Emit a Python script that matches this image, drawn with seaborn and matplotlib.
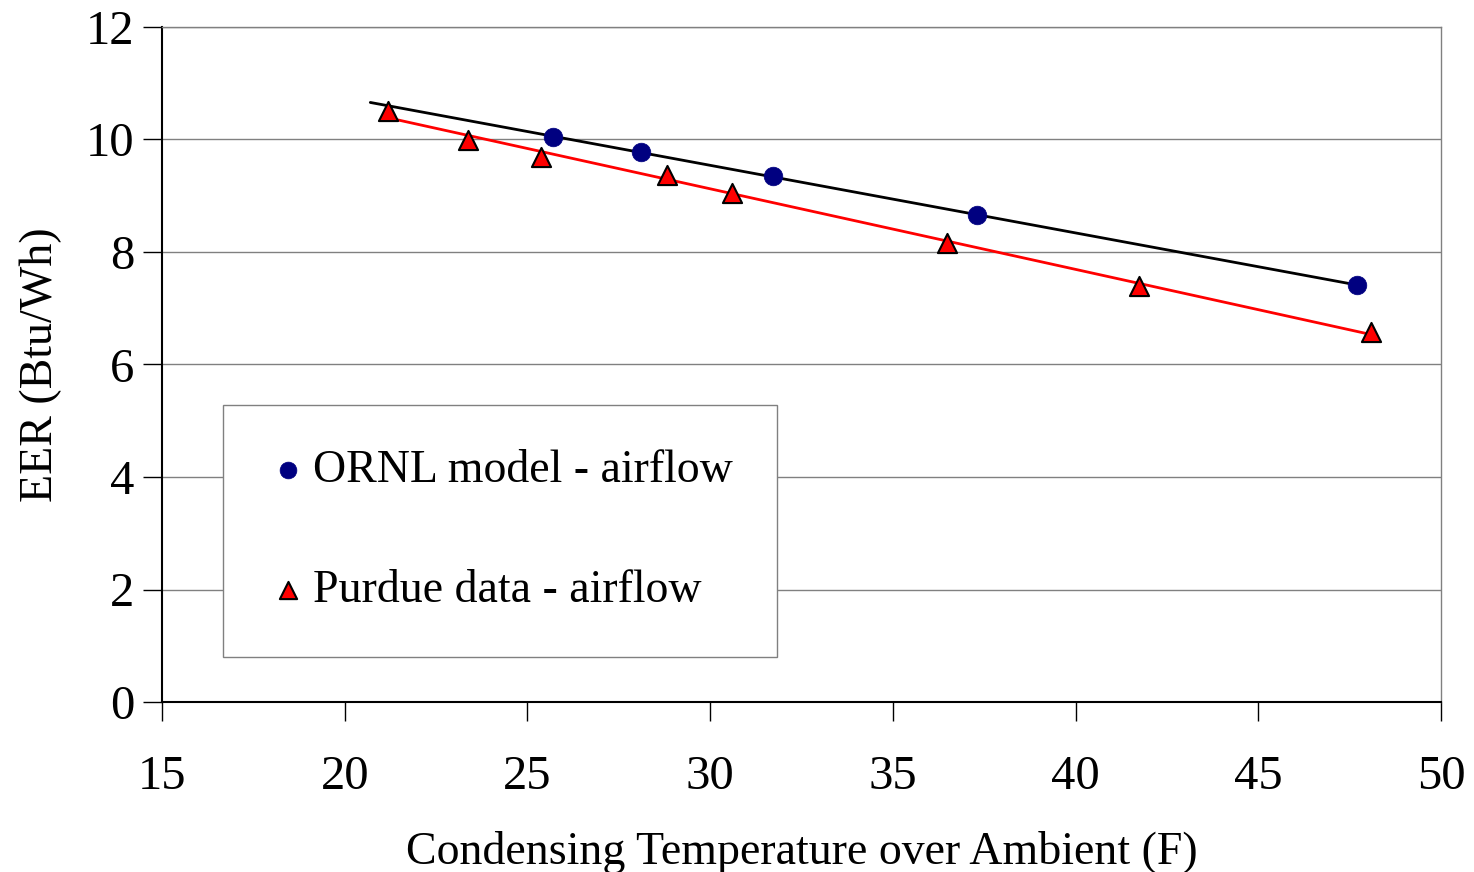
import numpy as np
import pandas as pd
import matplotlib
matplotlib.use("Agg")
import matplotlib.pyplot as plt
import seaborn as sns

ornl_x = [25.69, 28.10, 31.71, 37.31, 47.70]
ornl_y = [10.04, 9.78, 9.35, 8.66, 7.41]
purdue_x = [21.18, 23.37, 25.36, 28.81, 30.59, 36.49, 41.74, 48.09]
purdue_y = [10.51, 9.99, 9.69, 9.37, 9.05, 8.16, 7.40, 6.58]
ornl_fit_range = [20.7, 47.7]
purdue_fit_range = [21.18, 48.09]
x_ticks = [15, 20, 25, 30, 35, 40, 45, 50]
y_ticks = [0, 2, 4, 6, 8, 10, 12]

sns.set_style("white")
plt.rcParams['font.family'] = ['Liberation Serif', 'DejaVu Serif']
plt.rcParams['text.color'] = 'black'
plt.rcParams['axes.labelcolor'] = 'black'
plt.rcParams['xtick.color'] = 'black'
plt.rcParams['ytick.color'] = 'black'

fig = plt.figure(figsize=(14.74, 8.72), dpi=100)
ax = fig.add_axes([162/1474, 1-702/872, (1441-162)/1474, (702-27)/872])

# trendlines
for xs, ys, rng, col in [(ornl_x, ornl_y, ornl_fit_range, 'black'),
                         (purdue_x, purdue_y, purdue_fit_range, '#ff0000')]:
    p = np.polyfit(xs, ys, 1)
    lx = np.array(rng)
    ax.plot(lx, np.polyval(p, lx), color=col, lw=2, zorder=2)

df_o = pd.DataFrame({'x': ornl_x, 'y': ornl_y})
df_p = pd.DataFrame({'x': purdue_x, 'y': purdue_y})
sns.scatterplot(data=df_o, x='x', y='y', ax=ax, marker='o', s=180,
                color='#000080', edgecolor='#000080', linewidth=0.5,
                label='ORNL model - airflow', zorder=3)
sns.scatterplot(data=df_p, x='x', y='y', ax=ax, marker='^', s=190,
                color='#ff0000', edgecolor='black', linewidth=1.5,
                label='Purdue data - airflow', zorder=3)

ax.set_xlim(15, 50)
ax.set_ylim(0, 12)
ax.set_xticks(x_ticks)
ax.set_yticks(y_ticks)
ax.yaxis.grid(True, color='#808080', lw=1)
ax.xaxis.grid(False)
ax.set_axisbelow(True)
for s in ['left', 'bottom']:
    ax.spines[s].set_color('black')
    ax.spines[s].set_linewidth(1.5)
for s in ['top', 'right']:
    ax.spines[s].set_color('#808080')
    ax.spines[s].set_linewidth(1)
ax.tick_params(axis='both', direction='out', length=14, width=1, color='black',
               labelsize=35, bottom=True, left=True)
ax.tick_params(axis='x', pad=24)
ax.tick_params(axis='y', pad=6)

ax.set_xlabel('Condensing Temperature over Ambient (F)', fontsize=33, labelpad=23)
ax.set_ylabel('EER (Btu/Wh)', fontsize=33, labelpad=17)

leg = ax.legend(loc='upper left', bbox_to_anchor=((223-162)/1279, (702-405)/675),
                fontsize=33, frameon=True, fancybox=False, edgecolor='#808080',
                framealpha=1, borderpad=0.97, labelspacing=1.7, handletextpad=0.1,
                handlelength=0.89, markerscale=0.9, borderaxespad=0)
leg.get_frame().set_linewidth(1)

fig.savefig('out.png', dpi=100)
